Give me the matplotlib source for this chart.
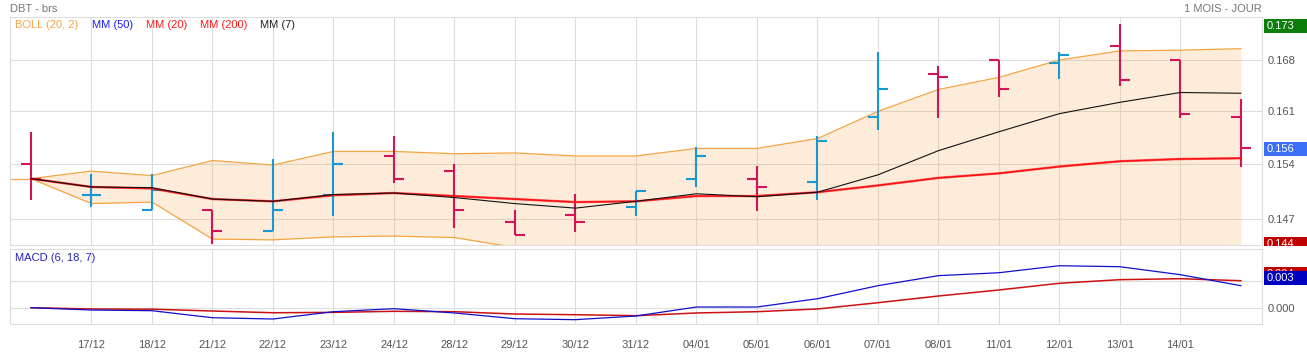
import matplotlib
matplotlib.use('Agg')
import matplotlib.pyplot as plt
from matplotlib.patches import Rectangle
from matplotlib.transforms import Bbox, TransformedBbox

plt.rcParams['font.family'] = ['Liberation Sans', 'DejaVu Sans']

# sessions (16/12 -> 15/01)
dates = ['16/12', '17/12', '18/12', '21/12', '22/12', '23/12', '24/12', '28/12', '29/12', '30/12', '31/12',
         '04/01', '05/01', '06/01', '07/01', '08/01', '11/01', '12/01', '13/01', '14/01', '15/01']

opens = [0.1543, 0.1502, 0.1481, 0.1482, 0.1454, 0.1502, 0.1553, 0.1533, 0.1465, 0.1475, 0.1486,
         0.1523, 0.1523, 0.1518, 0.1604, 0.1662, 0.1680, 0.1676, 0.1699, 0.1680, 0.1604]
highs = [0.1585, 0.1529, 0.1529, 0.1482, 0.1549, 0.1585, 0.1580, 0.1543, 0.1482, 0.1503, 0.1507,
         0.1565, 0.1540, 0.1580, 0.1691, 0.1672, 0.1680, 0.1690, 0.1728, 0.1680, 0.1628]
lows = [0.1495, 0.1485, 0.1481, 0.1436, 0.1454, 0.1474, 0.1517, 0.1458, 0.1449, 0.1453, 0.1474,
        0.1512, 0.1480, 0.1495, 0.1588, 0.1603, 0.1631, 0.1655, 0.1646, 0.1603, 0.1538]
closes = [0.1523, 0.1502, 0.1508, 0.1454, 0.1481, 0.1543, 0.1523, 0.1481, 0.1449, 0.1465, 0.1507,
          0.1553, 0.1512, 0.1573, 0.1642, 0.1657, 0.1642, 0.1686, 0.1653, 0.1609, 0.1564]

boll_up = [0.1523, 0.1533, 0.1527, 0.1547, 0.1541, 0.1559, 0.1559, 0.1556, 0.1557, 0.1553, 0.1553,
           0.1563, 0.1563, 0.1576, 0.1612, 0.1641, 0.1657, 0.1680, 0.1692, 0.1693, 0.1695]
boll_low = [0.1523, 0.1490, 0.1492, 0.1443, 0.1442, 0.1446, 0.1447, 0.1445, 0.1432, 0.1430, 0.1428,
            0.1425, 0.1424, 0.1420, 0.1412, 0.1400, 0.1390, 0.1375, 0.1365, 0.1360, 0.1358]
mm20 = [0.1523, 0.1512, 0.1510, 0.1496, 0.1493, 0.1501, 0.1504, 0.1500, 0.1496, 0.1492, 0.1493,
        0.1500, 0.1500, 0.1505, 0.1514, 0.1524, 0.1530, 0.1539, 0.1546, 0.1549, 0.1550]
# MM(50) and MM(200) sit right on top of MM(20) (short history)
mm50 = list(mm20)
mm200 = list(mm20)
mm7 = [0.1523, 0.1512, 0.1511, 0.1496, 0.1493, 0.1502, 0.1504, 0.1498, 0.1490, 0.1484, 0.1493,
       0.1503, 0.1499, 0.1505, 0.1528, 0.1560, 0.1585, 0.1609, 0.1624, 0.1637, 0.1636]

macd = [0.00008, -0.00023, -0.00032, -0.00125, -0.00142, -0.00045, -0.00005, -0.00062, -0.00138, -0.00151, -0.00102,
        0.00017, 0.00017, 0.00127, 0.00300, 0.00433, 0.00472, 0.00565, 0.00552, 0.00446, 0.00300]
signal = [0.00008, -0.00009, -0.00012, -0.00036, -0.00059, -0.00054, -0.00040, -0.00045, -0.00076, -0.00085, -0.00098,
          -0.00062, -0.00045, -0.00009, 0.00074, 0.00163, 0.00243, 0.00332, 0.00380, 0.00393, 0.00366]

W, H = 1307, 354
UP = '#1797d4'
DOWN = '#d4145a'
GRID = '#dddddd'

fig = plt.figure(figsize=(W / 100, H / 100), dpi=100)
fig.patch.set_facecolor('white')

ax = fig.add_axes([10 / W, 1 - 245 / H, 1252 / W, 228 / H])
ax2 = fig.add_axes([10 / W, 1 - 324 / H, 1252 / W, 74.7 / H])

x = list(range(len(dates)))
xlim = (-0.347, 20.35)

# ---- price panel
ax.set_xlim(*xlim)
ax.set_ylim(0.14352, 0.17369)
ax.set_xticks(x[1:-1])
ax.set_yticks([0.147, 0.1542, 0.1612, 0.168])
ax.set_yticklabels(['%.3f' % v for v in [0.147, 0.1542, 0.1612, 0.168]])
ax.grid(True, color=GRID, lw=0.8, zorder=0)
ax.set_axisbelow(True)
ax.tick_params(length=0, labelbottom=False, labelleft=False, labelright=True,
               labelcolor='#555555', labelsize=8, pad=4)
for s in ax.spines.values():
    s.set_color(GRID)

ax.fill_between(x, boll_low, boll_up, color='#f5a442', alpha=0.2, lw=0, zorder=1)
ax.plot(x, boll_up, color='#f5a442', lw=0.9, zorder=2)
ax.plot(x, boll_low, color='#f5a442', lw=0.9, zorder=2)
ax.hlines(boll_up[0], xlim[0], 0, color='#f5a442', lw=0.9, zorder=2)

tick = 0.165
for i in x:
    c = UP if closes[i] >= opens[i] else DOWN
    ax.vlines(i, lows[i], highs[i], color=c, lw=1.5, zorder=3)
    ax.hlines(opens[i], i - tick, i, color=c, lw=1.5, zorder=3)
    ax.hlines(closes[i], i, i + tick, color=c, lw=1.5, zorder=3)

ax.plot(x, mm200, color='#ff0000', lw=1.8, alpha=0.5, zorder=4)
ax.plot(x, mm50, color='#3030ff', lw=1.0, ls=(0, (1, 3)), alpha=0.6, zorder=4)
ax.plot(x, mm20, color='#ff1010', lw=1.1, zorder=5)
ax.plot(x, mm7, color='#111111', lw=0.8, zorder=6)

# ---- MACD panel
ax2.set_xlim(*xlim)
ax2.set_ylim(-0.002083, 0.007829)
ax2.set_xticks(x[1:-1])
ax2.set_xticklabels(dates[1:-1])
ax2.set_yticks([0, 0.0036])
ax2.set_yticklabels(['0.000', ''])
ax2.grid(True, color=GRID, lw=0.8, zorder=0)
ax2.tick_params(length=0, labelleft=False, labelright=True, labelcolor='#555555',
                labelsize=8, pad=4)
ax2.tick_params(axis='x', pad=11.5)
for s in ax2.spines.values():
    s.set_color(GRID)
ax2.plot(x, signal, color='#cc1111', lw=1.1, zorder=3)
ax2.plot(x, macd, color='#1010cc', lw=0.9, zorder=4)


def ypix(a, v):
    return H - a.transData.transform((0, v))[1]


def side_box(center, text, color, z, cut=None):
    top = center - 7
    bottom = center + 7 if cut is None else cut
    fig.add_artist(Rectangle((1264 / W, 1 - bottom / H), 43 / W, (bottom - top) / H,
                             transform=fig.transFigure, facecolor=color, edgecolor='none', zorder=z))
    t = fig.text(1267 / W, 1 - center / H, text, color='white', fontsize=8, va='center', zorder=z + 0.5)
    if cut is not None:
        t.set_clip_box(TransformedBbox(Bbox([[1264 / W, 1 - cut / H], [1, 1 - top / H]]), fig.transFigure))
        t.set_clip_on(True)


y_low, y_high = ax.get_ylim()
side_box(ypix(ax, y_high) + 9, '0.173', '#0a7d0a', 5)
side_box(ypix(ax, closes[-1]) + 1, '0.156', '#3d6ff5', 5)
side_box(ypix(ax, y_low) - 1.3, '0.144', '#c00000', 5, cut=ypix(ax, y_low) + 0.7)
side_box(ypix(ax2, signal[-1]) - 7, '0.004', '#c00000', 5)
side_box(ypix(ax2, macd[-1]) - 7.5, '0.003', '#0000c0', 7)

# ---- header and legends
fig.text(10 / W, 1 - 9 / H, 'DBT - brs', color='#777777', fontsize=8, va='center')
fig.text(1262 / W, 1 - 9 / H, '1 MOIS - JOUR', color='#777777', fontsize=8, va='center', ha='right')
legend = [('BOLL (20, 2)', '#f5a442', 15), ('MM (50)', '#1a1aff', 92), ('MM (20)', '#ff1a1a', 146),
          ('MM (200)', '#ff1a1a', 200), ('MM (7)', '#222222', 260)]
for label, col, px in legend:
    fig.text(px / W, 1 - 25 / H, label, color=col, fontsize=8, va='center')
fig.text(15 / W, 1 - 258 / H, 'MACD (6, 18, 7)', color='#2222bb', fontsize=8, va='center')

fig.savefig('out.png', dpi=100)
